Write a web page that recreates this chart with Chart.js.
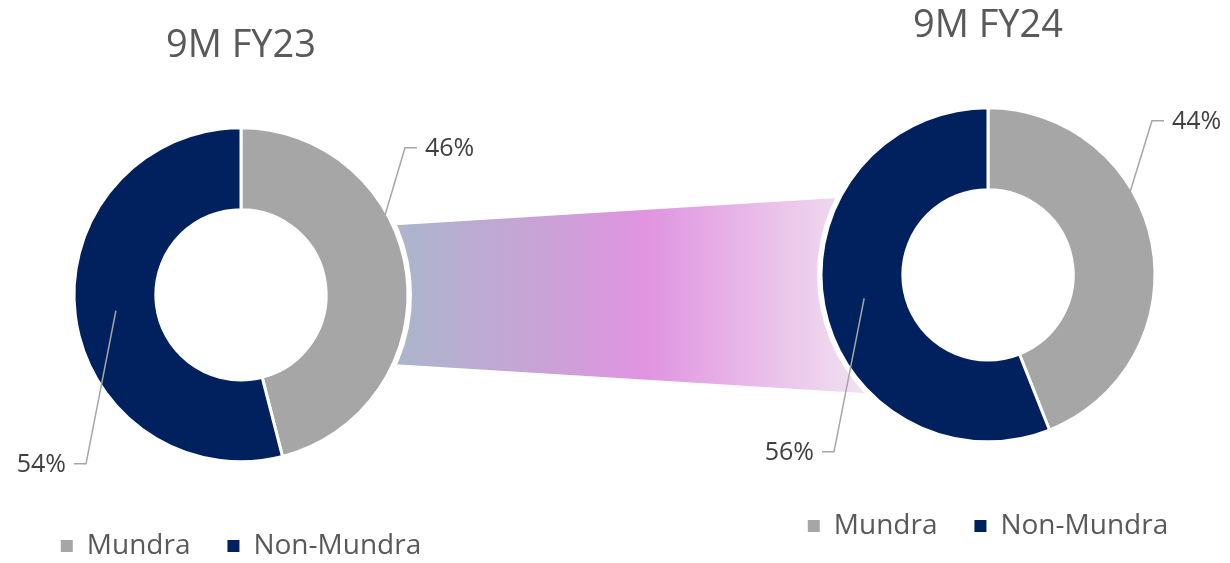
<!DOCTYPE html>
<html>
<head>
<meta charset="utf-8">
<script src="https://cdn.jsdelivr.net/npm/chart.js@4.4.1/dist/chart.umd.min.js"></script>
<style>
  html, body { margin: 0; padding: 0; background: #fff; overflow: hidden; }
  #stage { position: relative; width: 1230px; height: 563px; overflow: hidden; }
  #band { position: absolute; left: 0; top: 0; }
  .box { position: absolute; top: 0; width: 482px; }
</style>
</head>
<body>
<div id="stage">
  <canvas id="band" width="1230" height="563"></canvas>
  <div class="box" style="left:0;height:570px"><canvas id="chartFY23"></canvas></div>
  <div class="box" style="left:747px;height:550px"><canvas id="chartFY24"></canvas></div>
</div>
<script>
const categories = ['Mundra', 'Non-Mundra'];
const fy23Values = [46, 54];
const fy24Values = [44, 56];
const periodTitles = ['9M FY23', '9M FY24'];
const sliceColors = ['#a6a6a6', '#00215e'];

const FONT = '"Open Sans", "Noto Sans", sans-serif';

// where each label's leader line bends, relative to the doughnut centre
const elbowsFY23 = [[164, -147], [-155, 169]];
const elbowsFY24 = [[164, -154], [-154, 177]];

const leaderLabels = {
	id: 'leaderLabels',
	afterDatasetsDraw(chart, args, opts) {
		const ctx = chart.ctx;
		const arcs = chart.getDatasetMeta(0).data;
		const values = chart.data.datasets[0].data;
		ctx.save();
		arcs.forEach((arc, i) => {
			const mid = (arc.startAngle + arc.endAngle) / 2;
			const r = (arc.innerRadius + arc.outerRadius) / 2;
			const sx = arc.x + Math.cos(mid) * r;
			const sy = arc.y + Math.sin(mid) * r;
			const ex = arc.x + opts.elbows[i][0];
			const ey = arc.y + opts.elbows[i][1];
			const dir = opts.elbows[i][0] > 0 ? 1 : -1;
			ctx.beginPath();
			ctx.moveTo(sx, sy);
			ctx.lineTo(ex, ey);
			ctx.lineTo(ex + dir * 12, ey);
			ctx.strokeStyle = '#a6a6a6';
			ctx.lineWidth = 1.5;
			ctx.stroke();
			ctx.font = '25px ' + FONT;
			ctx.fillStyle = '#404040';
			ctx.textBaseline = 'middle';
			ctx.textAlign = dir > 0 ? 'left' : 'right';
			ctx.fillText(values[i] + '%', ex + dir * 20, ey + 1);
		});
		ctx.restore();
	}
};

function makeDoughnut(id, values, title, elbows, titleTop) {
	return new Chart(document.getElementById(id), {
		type: 'doughnut',
		data: {
			labels: categories,
			datasets: [{
				data: values,
				backgroundColor: sliceColors,
				borderColor: '#ffffff',
				borderWidth: 3
			}]
		},
		options: {
			responsive: true,
			maintainAspectRatio: false,
			animation: false,
			events: [],
			radius: 167,
			cutout: '51%',
			layout: { padding: 0 },
			plugins: {
				title: {
					display: true,
					text: title,
					color: '#595959',
					font: { family: FONT, size: 38, weight: 'normal' },
					padding: { top: titleTop, bottom: 26 }
				},
				legend: {
					position: 'bottom',
					labels: {
						boxWidth: 12,
						boxHeight: 12,
						padding: 37,
						color: '#595959',
						font: { family: FONT, size: 28 },
						generateLabels: (chart) => Chart.overrides.doughnut.plugins.legend.labels
							.generateLabels(chart).map(l => ({ ...l, lineWidth: 0 }))
					}
				},
				tooltip: { enabled: false },
				leaderLabels: { elbows: elbows }
			}
		},
		plugins: [leaderLabels]
	});
}

const chart23 = makeDoughnut('chartFY23', fy23Values, periodTitles[0], elbowsFY23, 23);
const chart24 = makeDoughnut('chartFY24', fy24Values, periodTitles[1], elbowsFY24, 3);

// gradient band linking the two doughnuts
function drawBand() {
	const a = chart23.getDatasetMeta(0).data[0];
	const b = chart24.getDatasetMeta(0).data[0];
	const x1 = a.x, y1 = a.y, x2 = b.x + 747, r = a.outerRadius;
	const ctx = document.getElementById('band').getContext('2d');
	const hLeft = 60, hRight = 106;
	const g = ctx.createLinearGradient(x1 + r, 0, x2 - r * 0.72, 0);
	g.addColorStop(0, '#adb4cc');
	g.addColorStop(0.52, '#e094e0');
	g.addColorStop(1, '#f1e3f1');
	ctx.fillStyle = g;
	ctx.beginPath();
	ctx.moveTo(x1, y1 - hLeft);
	ctx.lineTo(x2, y1 - hRight);
	ctx.lineTo(x2, y1 + hRight);
	ctx.lineTo(x1, y1 + hLeft);
	ctx.closePath();
	ctx.fill();
	ctx.globalCompositeOperation = 'destination-out';
	[[x1, y1], [x2, b.y]].forEach(([cx, cy]) => {
		ctx.beginPath();
		ctx.arc(cx, cy, r + 4, 0, Math.PI * 2);
		ctx.fill();
	});
	ctx.globalCompositeOperation = 'source-over';
}
drawBand();
</script>
</body>
</html>
